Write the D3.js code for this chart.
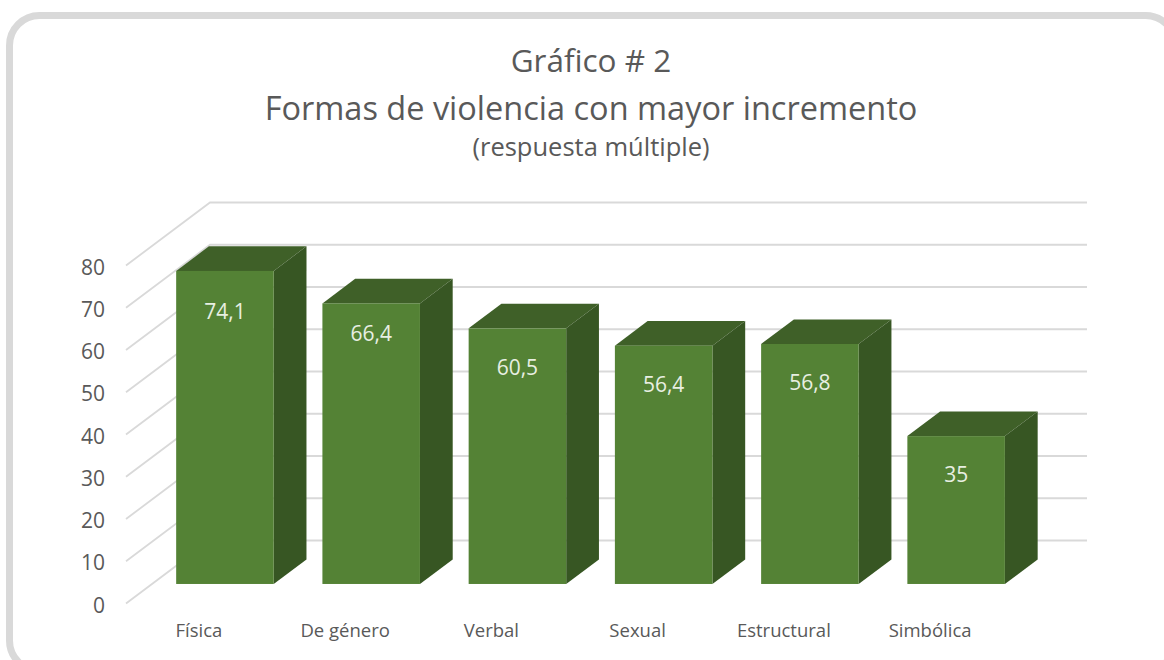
<!DOCTYPE html>
<html>
<head>
<meta charset="utf-8">
<script src="https://cdnjs.cloudflare.com/ajax/libs/d3/7.8.5/d3.min.js"></script>
<style>
    html, body { margin: 0; padding: 0; background: #fff; overflow: hidden; }
    text { font-family: "Open Sans", "Noto Sans", sans-serif; }
</style>
</head>
<body>
<div class="chart"></div>
<script>
const categories = ['Física', 'De género', 'Verbal', 'Sexual', 'Estructural', 'Simbólica'];
const values = [74.1, 66.4, 60.5, 56.4, 56.8, 35];
const valueLabels = ['74,1', '66,4', '60,5', '56,4', '56,8', '35'];
const yTicks = [0, 10, 20, 30, 40, 50, 60, 70, 80];
const titleLines = ['Gráfico # 2', 'Formas de violencia con mayor incremento', '(respuesta múltiple)'];

const width = 1164, height = 660;

let svg = d3.select('.chart')
    .append('svg')
    .attr('width', width)
    .attr('height', height);

// outer card, runs off the right and bottom of the picture
svg.append('rect')
    .attr('x', 9.5)
    .attr('y', 15.5)
    .attr('width', 1166)
    .attr('height', 655)
    .attr('rx', 30)
    .attr('fill', '#fff')
    .attr('stroke', '#d9d9d9')
    .attr('stroke-width', 7);

// fake 3d: front wall edge at x0, depth pushes things right and up
const x0 = 126, y0 = 603.5;
const xScale = d3.scaleBand()
    .domain(categories)
    .range([0, 877])
    .paddingInner(0.333)
    .paddingOuter(0.165);
const yScale = d3.scaleLinear()
    .domain([0, 80])
    .range([y0, y0 - 338]);
const depthX = d3.scaleLinear().domain([0, 1]).range([0, 84]);
const depthY = d3.scaleLinear().domain([0, 1]).range([0, -63]);

const px = (x, z) => x0 + x + depthX(z);
const py = (v, z) => yScale(v) + depthY(z);

// gridlines go up the side wall and then along the back wall
svg.append('g')
    .selectAll('polyline')
    .data(yTicks)
    .enter()
    .append('polyline')
    .attr('points', d => [[px(0, 0), py(d, 0)], [px(0, 1), py(d, 1)], [px(877, 1), py(d, 1)]].join(' '))
    .attr('fill', 'none')
    .attr('stroke', '#d9d9d9')
    .attr('stroke-width', 1.8);

const zFront = 0.31, zBack = 0.70;
const poly = pts => pts.join(' ');

let bars = svg.append('g')
    .selectAll('g')
    .data(categories.map((c, i) => ({c, v: values[i], label: valueLabels[i], i})))
    .enter()
    .append('g');

// top
bars.append('polygon')
    .attr('points', d => {
        const l = xScale(d.c), r = l + xScale.bandwidth();
        return poly([[px(l, zFront), py(d.v, zFront)], [px(r, zFront), py(d.v, zFront)],
            [px(r, zBack), py(d.v, zBack)], [px(l, zBack), py(d.v, zBack)]]);
    })
    .attr('fill', '#3f6028');

// side
bars.append('polygon')
    .attr('points', d => {
        const r = xScale(d.c) + xScale.bandwidth();
        return poly([[px(r, zFront), py(d.v, zFront)], [px(r, zBack), py(d.v, zBack)],
            [px(r, zBack), py(0, zBack)], [px(r, zFront), py(0, zFront)]]);
    })
    .attr('fill', '#375623');

// front
bars.append('rect')
    .attr('x', d => px(xScale(d.c), zFront))
    .attr('y', d => py(d.v, zFront))
    .attr('width', xScale.bandwidth())
    .attr('height', d => py(0, zFront) - py(d.v, zFront))
    .attr('fill', '#548235');

bars.append('text')
    .text(d => d.label)
    .attr('x', d => px(xScale(d.c) + xScale.bandwidth() / 2, zFront))
    .attr('y', d => py(d.v, zFront) + (d.i === 1 ? 30 : d.i === 0 ? 41 : 39))
    .attr('dy', '0.35em')
    .attr('text-anchor', 'middle')
    .attr('font-size', 21)
    .attr('fill', '#e8efe2');

const yAxis = d3.axisLeft()
    .scale(yScale)
    .tickValues(yTicks)
    .tickSize(0)
    .tickPadding(0);

let yG = svg.append('g')
    .attr('class', 'axis y-axis')
    .attr('transform', 'translate(105, 2)')
    .call(yAxis);
yG.select('.domain').remove();
yG.selectAll('text')
    .attr('font-size', 21)
    .style('font-family', '"Open Sans", "Noto Sans", sans-serif')
    .attr('fill', '#595959');

svg.append('g')
    .selectAll('text')
    .data(categories)
    .enter()
    .append('text')
    .text(d => d)
    .attr('x', d => px(xScale(d) + xScale.bandwidth() / 2, 0))
    .attr('y', 630.5)
    .attr('dy', '0.35em')
    .attr('text-anchor', 'middle')
    .attr('font-size', 18.5)
    .attr('fill', '#595959');

const titleY = [61, 109, 147.5], titleSize = [31.5, 32.5, 25.5];
svg.append('g')
    .selectAll('text')
    .data(titleLines)
    .enter()
    .append('text')
    .text(d => d)
    .attr('x', 591)
    .attr('y', (d, i) => titleY[i])
    .attr('dy', '0.35em')
    .attr('text-anchor', 'middle')
    .attr('font-size', (d, i) => titleSize[i])
    .attr('fill', '#595959');
</script>
</body>
</html>
